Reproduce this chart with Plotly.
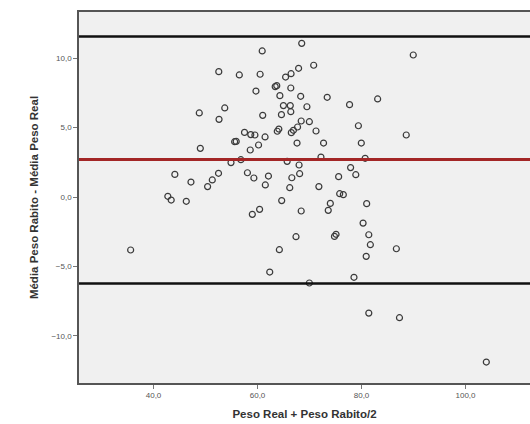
import plotly.graph_objects as go

# Bland-Altman data
media = [35.6, 42.75, 43.4, 44.1, 46.3, 47.2, 48.8, 49.0, 50.4, 51.3,
         52.5, 52.55, 52.6, 53.7, 54.9, 55.6, 55.9, 56.5, 56.8, 57.5,
         58.06, 58.6, 58.7, 59.0, 59.3, 59.5, 59.7, 60.2, 60.4, 60.5,
         60.9, 61.0, 61.45, 61.5, 62.1, 62.35, 63.4, 63.7, 63.8, 64.1,
         64.2, 64.3, 64.6, 64.65, 64.98, 65.4, 65.7, 66.2, 66.3, 66.4,
         66.4, 66.45, 66.5, 66.6, 66.9, 67.4, 67.6, 67.7, 67.9, 67.99,
         68.1, 68.3, 68.4, 68.4, 68.5, 69.5, 69.97, 69.97, 70.8, 71.25,
         71.8, 72.2, 72.7, 73.4, 73.6, 74.0, 74.8, 75.1, 75.6, 75.8,
         76.5, 77.7, 77.9, 78.55, 78.9, 79.4, 79.96, 80.3, 80.7, 80.9,
         80.99, 81.4, 81.4, 81.7, 83.1, 86.7, 87.3, 88.6, 89.95, 104.0]
diferenca = [-3.82, 0.05, -0.22, 1.63, -0.31, 1.08, 6.06, 3.51, 0.75, 1.23,
             1.71, 9.04, 5.60, 6.42, 2.48, 3.99, 4.01, 8.80, 2.69, 4.66,
             1.75, 3.39, 4.50, -1.25, 1.37, 4.47, 7.64, 3.75, -0.89, 8.85,
             10.53, 5.89, 4.33, 0.87, 1.51, -5.41, 7.96, 8.03, 4.74, 4.90,
             -3.80, 7.31, 5.94, -0.26, 6.59, 8.65, 2.57, 0.67, 6.59, 7.86,
             6.15, 8.89, 4.64, 1.39, 4.81, -2.86, 3.89, 5.05, 9.28, 2.31,
             1.68, 7.26, -1.01, 5.48, 11.08, 6.51, 5.43, -6.20, 9.50, 4.76,
             0.75, 2.88, 3.89, 7.19, -0.96, -0.46, -2.84, -2.69, 1.47, 0.24,
             0.17, 6.66, 2.12, -5.79, 1.61, 5.14, 3.89, -1.88, 2.79, -4.28,
             -0.48, -2.72, -8.37, -3.44, 7.07, -3.73, -8.70, 4.47, 10.24, -11.9]

media_dif = 2.71
limite_sup = 11.58
limite_inf = -6.23

x_ticks = [40, 60, 80, 100]
y_ticks = [10, 5, 0, -5, -10]

x_range = [25.67, 112.4]
y_range = [-13.41, 13.34]

fig = go.Figure()
fig.add_trace(go.Scatter(
    x=media, y=diferenca, mode="markers",
    marker=dict(symbol="circle-open", size=6, color="#3a3a3a",
                line=dict(width=1.2, color="#3a3a3a")),
    showlegend=False, hoverinfo="skip"))

for val, col, w in [(limite_sup, "#111111", 2.5), (media_dif, "#a32626", 3),
                    (limite_inf, "#111111", 2.5)]:
    fig.add_shape(type="line", xref="paper", x0=0, x1=1, yref="y", y0=val, y1=val,
                  line=dict(color=col, width=w))

fig.update_layout(
    width=530, height=424,
    margin=dict(l=79, r=0, t=12, b=41),
    paper_bgcolor="white", plot_bgcolor="#f0f0f0",
    separators=",.",
    font=dict(family="Liberation Sans, Arial, sans-serif", color="#333333"),
    xaxis=dict(range=x_range, tickvals=x_ticks, tickformat=".1f",
               showgrid=False, zeroline=False,
               showline=True, linecolor="#555555", linewidth=1.5, mirror=True,
               ticks="outside", ticklen=4, tickcolor="#777777",
               tickfont=dict(size=8, color="#555555"),
               title=dict(text="<b>Peso Real + Peso Rabito/2</b>",
                          font=dict(size=11.5, color="#333333"), standoff=11)),
    yaxis=dict(range=y_range, tickvals=y_ticks, tickformat=".1f",
               showgrid=False, zeroline=False,
               showline=True, linecolor="#555555", linewidth=1.5,
               ticks="outside", ticklen=4, tickcolor="#777777",
               tickfont=dict(size=8, color="#555555"),
               title=dict(text="<b>Média Peso Rabito - Média Peso Real</b>",
                          font=dict(size=11.5, color="#333333"), standoff=10)),
)

fig.write_html("out.html")
